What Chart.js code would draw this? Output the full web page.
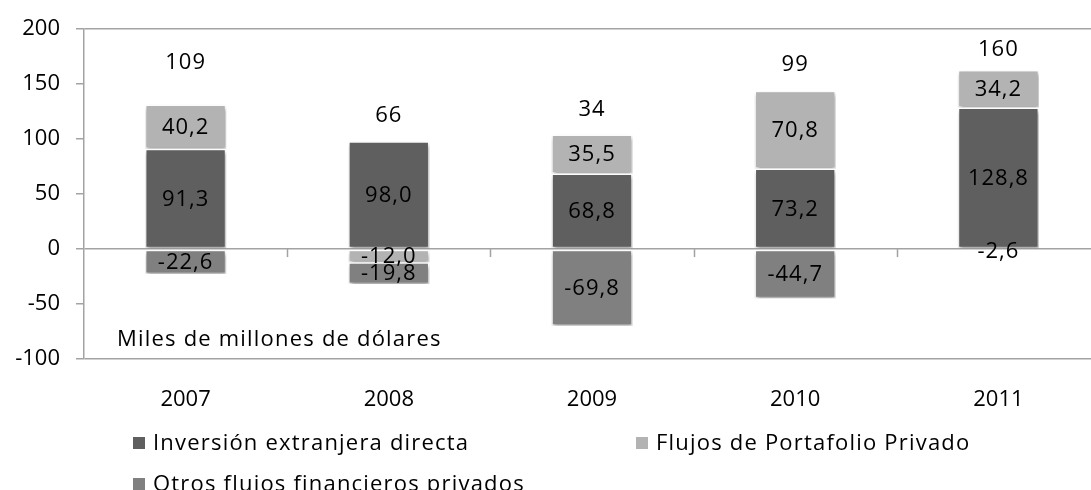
<!DOCTYPE html>
<html>
<head>
<meta charset="utf-8">
<script src="https://cdn.jsdelivr.net/npm/chart.js@4.4.1/dist/chart.umd.min.js"></script>
<style>
  html, body { margin: 0; padding: 0; background: #ffffff; overflow: hidden; }
  #wrap { width: 1102px; height: 490px; position: relative; }
</style>
</head>
<body>
<div id="wrap"><canvas id="c" width="1102" height="490"></canvas></div>
<script>
// ---- Data ----
const categories = ['2007', '2008', '2009', '2010', '2011'];
const seriesNames = ['Inversión extranjera directa', 'Flujos de Portafolio Privado', 'Otros flujos financieros privados'];
const ied = [91.3, 98.0, 68.8, 73.2, 128.8];
const portafolio = [40.2, -12.0, 35.5, 70.8, 34.2];
const otros = [-22.6, -19.8, -69.8, -44.7, -2.6];
const totals = ['109', '66', '34', '99', '160'];
const yTicks = { min: -100, max: 200, step: 50 };
const unitNote = 'Miles de millones de dólares';

// ---- Styles ----
const FONT = '"Open Sans", Lato, sans-serif';
const FSIZE = 22;
const colors = ['#5f5f5f', '#b3b3b3', '#808080'];
const axisGray = '#a3a3a3';
const totalLabelGapPx = [42, 26, 25, 26, 20];   // gap above each stack for the total label
const legendSlots = [[133, 443], [636, 443], [133, 484]];

const fmt = v => v.toFixed(1).replace('.', ',');

const shadowPlugin = {
  id: 'shadowPlugin',
  beforeDatasetsDraw(chart) {
    const ctx = chart.ctx;
    ctx.save();
    ctx.shadowColor = 'rgba(0,0,0,0.35)';
    ctx.shadowBlur = 4;
    ctx.shadowOffsetX = 1;
    ctx.shadowOffsetY = 3;
  },
  afterDatasetsDraw(chart) {
    chart.ctx.restore();
  }
};

const labelsPlugin = {
  id: 'labelsPlugin',
  afterDatasetsDraw(chart) {
    const ctx = chart.ctx;
    const ys = chart.scales.y;
    const xs = chart.scales.x;
    ctx.save();
    // category tick marks on zero line
    ctx.strokeStyle = axisGray;
    ctx.lineWidth = 1.5;
    const y0 = ys.getPixelForValue(0);
    const step = (xs.right - xs.left) / categories.length;
    for (let i = 1; i < categories.length; i++) {
      const x = Math.round(xs.left + step * i) + 0.5;
      ctx.beginPath();
      ctx.moveTo(x, y0);
      ctx.lineTo(x, y0 + 8);
      ctx.stroke();
    }
    // segment labels
    ctx.fillStyle = '#000';
    ctx.font = FSIZE + 'px ' + FONT;
    ctx.letterSpacing = '1px';
    ctx.textAlign = 'center';
    ctx.textBaseline = 'middle';
    chart.data.datasets.forEach((ds, di) => {
      const meta = chart.getDatasetMeta(di);
      meta.data.forEach((el, i) => {
        const v = ds.data[i];
        const cy = (el.y + el.base) / 2;
        ctx.fillText(fmt(v), el.x, cy + 1);
      });
    });
    // totals
    categories.forEach((c, i) => {
      let pos = 0;
      chart.data.datasets.forEach(ds => { if (ds.data[i] > 0) pos += ds.data[i]; });
      const x = chart.getDatasetMeta(0).data[i].x;
      ctx.fillText(totals[i], x, ys.getPixelForValue(pos) - totalLabelGapPx[i]);
    });
    // unit note
    ctx.letterSpacing = '1.2px';
    ctx.textAlign = 'left';
    ctx.fillText(unitNote, 117, 340);
    ctx.restore();
  }
};

const legendPlugin = {
  id: 'legendPlugin',
  afterDraw(chart) {
    const ctx = chart.ctx;
    ctx.save();
    ctx.font = FSIZE + 'px ' + FONT;
    ctx.letterSpacing = '1.2px';
    ctx.textBaseline = 'middle';
    ctx.textAlign = 'left';
    chart.data.datasets.forEach((ds, i) => {
      const [x, y] = legendSlots[i];
      ctx.fillStyle = ds.backgroundColor;
      ctx.fillRect(x, y - 6, 12, 12);
      ctx.fillStyle = '#000';
      ctx.fillText(ds.label, x + 20, y + 1);
    });
    ctx.restore();
  }
};

new Chart(document.getElementById('c'), {
  type: 'bar',
  data: {
    labels: categories,
    datasets: [
      { label: seriesNames[0], data: ied, backgroundColor: colors[0] },
      { label: seriesNames[1], data: portafolio, backgroundColor: colors[1] },
      { label: seriesNames[2], data: otros, backgroundColor: colors[2] }
    ].map(d => Object.assign(d, { borderColor: '#ffffff', borderWidth: 1.5, borderSkipped: false, categoryPercentage: 1.0, barPercentage: 0.4 }))
  },
  options: {
    responsive: false,
    animation: false,
    layout: { padding: { left: 14, right: 2, top: 8, bottom: 81 } },
    plugins: { legend: { display: false }, tooltip: { enabled: false } },
    scales: {
      x: {
        stacked: true,
        grid: { display: false },
        border: { display: false },
        ticks: { color: '#000', font: { family: FONT, size: FSIZE }, padding: 20 },
        afterFit(scale) { scale.height = 50; }
      },
      y: {
        stacked: true,
        min: yTicks.min, max: yTicks.max,
        ticks: { stepSize: yTicks.step, color: '#000', font: { family: FONT, size: FSIZE }, padding: 16 },
        grid: {
          color: ctx => (ctx.tick && [yTicks.min, 0, yTicks.max].includes(ctx.tick.value)) ? axisGray : 'rgba(0,0,0,0)',
          tickColor: axisGray,
          tickLength: 8,
          lineWidth: 1.5
        },
        border: { display: true, color: axisGray, width: 1.5 },
        afterFit(scale) { scale.width = 70; }
      }
    }
  },
  plugins: [shadowPlugin, labelsPlugin, legendPlugin]
});
</script>
</body>
</html>
